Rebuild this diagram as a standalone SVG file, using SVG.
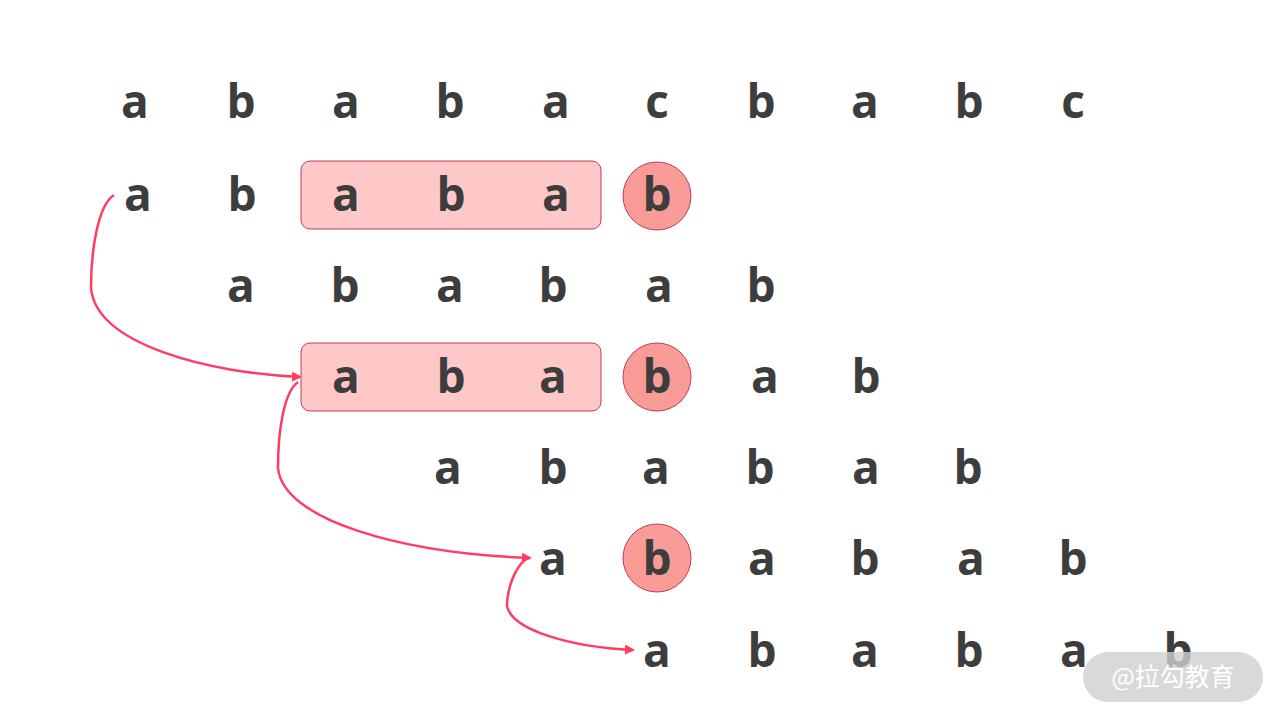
<svg xmlns="http://www.w3.org/2000/svg" width="1280" height="720" viewBox="0 0 1280 720">
<defs>
<style>
.t{font-family:"Open Sans","Liberation Sans",sans-serif;font-weight:700;font-size:46px;fill:#3d3d3d;text-anchor:middle}
.box{fill:#ffc8c8;stroke:#c43a55;stroke-width:1}
.cir{fill:#f99b96;stroke:#c43a55;stroke-width:1}
.arr{fill:none;stroke:#ff3d63;stroke-width:2.5;marker-end:url(#ah)}
.wm{font-family:"Noto Sans CJK SC","Noto Sans",sans-serif;font-size:25px;fill:#ffffff;text-anchor:middle}
</style>
<marker id="ah" markerWidth="10" markerHeight="10" refX="8" refY="5" orient="auto" markerUnits="userSpaceOnUse" viewBox="0 0 10 10">
<path d="M0,0 L10,5 L0,10 Z" fill="#ff3d63"/>
</marker>
</defs>
<rect width="1280" height="720" fill="#ffffff"/>
<g id="row1">
<text class="t" x="135" y="118">a</text><text class="t" x="241" y="118">b</text><text class="t" x="346" y="118">a</text><text class="t" x="450" y="118">b</text><text class="t" x="556" y="118">a</text><text class="t" x="657" y="118">c</text><text class="t" x="761" y="118">b</text><text class="t" x="865" y="118">a</text><text class="t" x="969" y="118">b</text><text class="t" x="1073" y="118">c</text>
</g>
<g id="row2">
<rect class="box" x="301" y="161" width="300" height="68" rx="9"/>
<circle class="cir" cx="657" cy="196" r="34"/>
<text class="t" x="138" y="211">a</text><text class="t" x="242" y="211">b</text><text class="t" x="346" y="211">a</text><text class="t" x="451" y="211">b</text><text class="t" x="556" y="211">a</text><text class="t" x="657" y="211">b</text>
</g>
<g id="row3">
<text class="t" x="241" y="302">a</text><text class="t" x="345" y="302">b</text><text class="t" x="450" y="302">a</text><text class="t" x="553" y="302">b</text><text class="t" x="659" y="302">a</text><text class="t" x="761" y="302">b</text>
</g>
<g id="row4">
<rect class="box" x="301" y="343" width="300" height="68" rx="9"/>
<circle class="cir" cx="657" cy="377" r="34"/>
<text class="t" x="346" y="393">a</text><text class="t" x="451" y="393">b</text><text class="t" x="553" y="393">a</text><text class="t" x="657" y="393">b</text><text class="t" x="765" y="393">a</text><text class="t" x="866" y="393">b</text>
</g>
<g id="row5">
<text class="t" x="448" y="484">a</text><text class="t" x="553" y="484">b</text><text class="t" x="656" y="484">a</text><text class="t" x="760" y="484">b</text><text class="t" x="866" y="484">a</text><text class="t" x="968" y="484">b</text>
</g>
<g id="row6">
<circle class="cir" cx="657" cy="558" r="34"/>
<text class="t" x="553" y="575">a</text><text class="t" x="657" y="575">b</text><text class="t" x="762" y="575">a</text><text class="t" x="865" y="575">b</text><text class="t" x="971" y="575">a</text><text class="t" x="1073" y="575">b</text>
</g>
<g id="row7">
<text class="t" x="657" y="667">a</text><text class="t" x="762" y="667">b</text><text class="t" x="865" y="667">a</text><text class="t" x="969" y="667">b</text><text class="t" x="1074" y="667">a</text><text class="t" x="1178" y="667">b</text>
</g>
<g id="connectors">
<path class="arr" d="M114,195 C98,205 91,250 91,288 C96,345 210,373 300,377"/>
<path class="arr" d="M298,382 C284,392 278,430 278,468 C283,520 400,553 530,558"/>
<path class="arr" d="M527,558 C514,568 507,590 507,606 C512,630 570,647 633,650"/>
</g>
<g id="watermark">
<rect x="1083" y="652" width="180" height="50" rx="25" fill="#cfcfcf" fill-opacity="0.8"/>
<text class="wm" x="1173" y="686">@拉勾教育</text>
</g>
</svg>
